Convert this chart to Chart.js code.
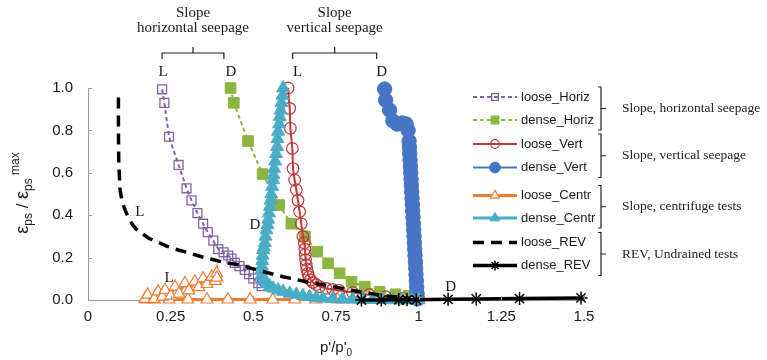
<!DOCTYPE html>
<html>
<head>
<meta charset="utf-8">
<script src="https://cdn.jsdelivr.net/npm/chart.js@4.4.1/dist/chart.umd.min.js"></script>
<style>
  html, body { margin: 0; padding: 0; background: #fff; }
  #wrap { width: 767px; height: 360px; }
</style>
</head>
<body>
<div id="wrap"><canvas id="chart" width="767" height="360"></canvas></div>
<script>
// 数据
const xTickLabels = ['0', '0.25', '0.5', '0.75', '1', '1.25', '1.5'];
const yTickLabels = ['0.0', '0.2', '0.4', '0.6', '0.8', '1.0'];

const looseHorizX = [0.224, 0.231, 0.245, 0.274, 0.298, 0.313, 0.331, 0.348, 0.362, 0.379, 0.394, 0.41, 0.424, 0.434, 0.444, 0.458, 0.474, 0.487, 0.5, 0.515, 0.525];
const looseHorizY = [0.994, 0.93, 0.77, 0.637, 0.527, 0.47, 0.41, 0.36, 0.32, 0.28, 0.24, 0.225, 0.21, 0.195, 0.175, 0.16, 0.142, 0.122, 0.102, 0.079, 0.065];

const denseHorizX = [0.431, 0.441, 0.484, 0.528, 0.578, 0.615, 0.656, 0.693, 0.726, 0.761, 0.797, 0.837, 0.882, 0.93, 0.97, 1.0];
const denseHorizY = [1.0, 0.93, 0.75, 0.594, 0.448, 0.36, 0.30, 0.228, 0.173, 0.126, 0.086, 0.063, 0.039, 0.027, 0.02, 0.015];

const looseVertX = [0.605, 0.61, 0.612, 0.618, 0.62, 0.625, 0.63, 0.635, 0.64, 0.645, 0.65, 0.654, 0.656, 0.657, 0.658, 0.66, 0.662, 0.665, 0.668, 0.673, 0.68, 0.69, 0.70, 0.72, 0.74, 0.76, 0.8, 0.85, 0.9, 0.95, 1.0];
const looseVertY = [1.0, 0.904, 0.81, 0.715, 0.62, 0.566, 0.52, 0.47, 0.417, 0.36, 0.30, 0.27, 0.24, 0.215, 0.19, 0.165, 0.145, 0.125, 0.11, 0.095, 0.083, 0.073, 0.063, 0.055, 0.05, 0.045, 0.035, 0.025, 0.016, 0.008, 0.003];

const denseVertX = [0.897, 0.9, 0.912, 0.922, 0.935, 0.95, 0.962, 0.968, 0.971, 0.972, 0.973, 0.974, 0.975, 0.976, 0.977, 0.978, 0.979, 0.98, 0.981, 0.982, 0.983, 0.984, 0.985, 0.986, 0.987, 0.988, 0.989, 0.99, 0.991, 0.992, 0.993, 0.994, 0.995, 0.996];
const denseVertY = [0.995, 0.943, 0.896, 0.845, 0.83, 0.835, 0.83, 0.8, 0.75, 0.72, 0.69, 0.66, 0.63, 0.60, 0.57, 0.54, 0.51, 0.48, 0.45, 0.42, 0.39, 0.36, 0.33, 0.30, 0.27, 0.24, 0.21, 0.18, 0.15, 0.12, 0.09, 0.06, 0.03, 0.005];

const looseCentrX = [1.0, 0.955, 0.888, 0.822, 0.755, 0.689, 0.625, 0.559, 0.49, 0.423, 0.36, 0.302, 0.245, 0.2, 0.175, 0.172, 0.18, 0.2, 0.212, 0.225, 0.233, 0.25, 0.263, 0.275, 0.293, 0.305, 0.323, 0.335, 0.348, 0.36, 0.374, 0.385, 0.389, 0.39];
const looseCentrY = [0.002, 0.002, 0.002, 0.002, 0.002, 0.002, 0.002, 0.002, 0.002, 0.002, 0.002, 0.002, 0.002, 0.002, 0.002, 0.005, 0.025, 0.005, 0.04, 0.015, 0.047, 0.02, 0.063, 0.03, 0.079, 0.045, 0.087, 0.06, 0.102, 0.075, 0.11, 0.09, 0.126, 0.105];

const denseCentrX = [0.59, 0.588, 0.585, 0.582, 0.58, 0.578, 0.575, 0.573, 0.572, 0.569, 0.566, 0.563, 0.561, 0.56, 0.557, 0.554, 0.552, 0.55, 0.547, 0.545, 0.543, 0.54, 0.537, 0.535, 0.532, 0.53, 0.528, 0.527, 0.526, 0.525, 0.526, 0.53, 0.54, 0.55, 0.56, 0.575, 0.59, 0.61, 0.63, 0.65, 0.67, 0.69, 0.71, 0.74, 0.77, 0.8, 0.83, 0.86, 0.89, 0.92, 0.95, 0.98, 1.0];
const denseCentrY = [1.0, 0.965, 0.93, 0.895, 0.865, 0.83, 0.795, 0.76, 0.723, 0.69, 0.655, 0.62, 0.59, 0.566, 0.535, 0.5, 0.47, 0.44, 0.41, 0.38, 0.355, 0.33, 0.3, 0.27, 0.25, 0.236, 0.21, 0.185, 0.16, 0.142, 0.12, 0.094, 0.078, 0.065, 0.055, 0.047, 0.04, 0.031, 0.026, 0.02, 0.015, 0.011, 0.008, 0.006, 0.004, 0.003, 0.002, 0.001, 0.001, 0.0, 0.0, 0.0, 0.0];

const looseRevX = [0.092, 0.092, 0.092, 0.093, 0.097, 0.104, 0.112, 0.122, 0.132, 0.145, 0.162, 0.185, 0.212, 0.24, 0.273, 0.31, 0.343, 0.38, 0.414, 0.459, 0.52, 0.59, 0.66, 0.741, 0.822, 0.902, 0.97];
const looseRevY = [0.955, 0.87, 0.8, 0.645, 0.519, 0.46, 0.425, 0.39, 0.362, 0.335, 0.315, 0.29, 0.272, 0.253, 0.236, 0.22, 0.204, 0.19, 0.176, 0.165, 0.138, 0.11, 0.086, 0.063, 0.039, 0.019, 0.008];

const denseRevX = [0.827, 0.887, 0.94, 0.965, 0.993, 1.089, 1.174, 1.305, 1.491];
const denseRevY = [0.0, 0.0, 0.001, 0.001, 0.001, 0.003, 0.005, 0.007, 0.01];

const seriesNames = ['loose_Horiz', 'dense_Horiz', 'loose_Vert', 'dense_Vert', 'loose_Centr', 'dense_Centr', 'loose_REV', 'dense_REV'];
const legendGroups = ['Slope, horizontal seepage', 'Slope, vertical seepage', 'Slope, centrifuge tests', 'REV, Undrained tests'];

// 图中的 L / D 标注（数据坐标）
const markLabels = [
  { text: 'L', x: 0.227, y: 1.075 },
  { text: 'D', x: 0.432, y: 1.075 },
  { text: 'L', x: 0.634, y: 1.075 },
  { text: 'D', x: 0.888, y: 1.075 },
  { text: 'L', x: 0.157, y: 0.415 },
  { text: 'L', x: 0.245, y: 0.104 },
  { text: 'D', x: 0.505, y: 0.354 },
  { text: 'D', x: 1.097, y: 0.061 }
];
const topGroups = [
  { lines: ['Slope', 'horizontal seepage'], x0: 0.224, x1: 0.411 },
  { lines: ['Slope', 'vertical seepage'], x0: 0.619, x1: 0.873 }
];

const SANS = '"Liberation Sans", Arial, sans-serif';
const SERIF = '"Liberation Serif", "Times New Roman", serif';
const TEXT_COLOR = '#1a1a1a';
const AXIS_COLOR = '#9a9a9a';

function zip(xs, ys) {
  return xs.map((x, i) => ({ x: x, y: ys[i] }));
}

const styles = [
  { color: '#8064A2', dash: [4, 3], width: 2, point: 'rect', radius: 6.3, fill: 'rgba(0,0,0,0)', pbw: 1.3 },
  { color: '#8DB540', dash: [4, 3], width: 2, point: 'rect', radius: 7.5, fill: '#8DB540', pbw: 1 },
  { color: '#C0393B', dash: [], width: 2, point: 'circle', radius: 5.8, fill: 'rgba(0,0,0,0)', pbw: 1.2 },
  { color: '#4775C6', dash: [], width: 2, point: 'circle', radius: 7.2, fill: '#4775C6', pbw: 1 },
  { color: '#ED7D31', dash: [], width: 3, point: 'triangle', radius: 6.8, fill: '#ffffff', pbw: 1.2 },
  { color: '#4AACC6', dash: [], width: 3, point: 'triangle', radius: 7.5, fill: '#4AACC6', pbw: 1 },
  { color: '#000000', dash: [11, 7], width: 3.5, point: 'circle', radius: 0, fill: '#000000', pbw: 0 },
  { color: '#000000', dash: [], width: 3.5, point: 'star', radius: 6.5, fill: '#000000', pbw: 1.5 }
];

const allX = [looseHorizX, denseHorizX, looseVertX, denseVertX, looseCentrX, denseCentrX, looseRevX, denseRevX];
const allY = [looseHorizY, denseHorizY, looseVertY, denseVertY, looseCentrY, denseCentrY, looseRevY, denseRevY];

const datasets = seriesNames.map((name, i) => {
  const s = styles[i];
  return {
    label: name,
    data: zip(allX[i], allY[i]),
    showLine: true,
    borderColor: s.color,
    borderWidth: s.width,
    borderDash: s.dash,
    pointStyle: s.point,
    pointRadius: s.radius,
    pointBorderWidth: s.pbw,
    pointBorderColor: s.color,
    pointBackgroundColor: s.fill,
    backgroundColor: s.fill,
    tension: 0,
    clip: false,
    order: seriesNames.length - i
  };
});

const decorPlugin = {
  id: 'decor',
  afterDraw(chart) {
    const { ctx, chartArea } = chart;
    const xs = chart.scales.x, ys = chart.scales.y;
    ctx.save();

    // 坐标轴内侧刻度
    ctx.strokeStyle = AXIS_COLOR;
    ctx.lineWidth = 1;
    xs.ticks.forEach(t => {
      const px = Math.round(xs.getPixelForValue(t.value)) + 0.5;
      ctx.beginPath(); ctx.moveTo(px, chartArea.bottom); ctx.lineTo(px, chartArea.bottom - 4); ctx.stroke();
    });
    ys.ticks.forEach(t => {
      const py = Math.round(ys.getPixelForValue(t.value)) + 0.5;
      ctx.beginPath(); ctx.moveTo(chartArea.left, py); ctx.lineTo(chartArea.left + 4, py); ctx.stroke();
    });

    // L / D 标注
    ctx.fillStyle = TEXT_COLOR;
    ctx.font = '15px ' + SERIF;
    ctx.textAlign = 'center';
    ctx.textBaseline = 'middle';
    markLabels.forEach(m => {
      ctx.fillText(m.text, xs.getPixelForValue(m.x), ys.getPixelForValue(m.y));
    });

    // 顶部括号和分组说明
    ctx.strokeStyle = '#222';
    ctx.lineWidth = 1.2;
    topGroups.forEach(g => {
      const a = xs.getPixelForValue(g.x0), b = xs.getPixelForValue(g.x1);
      const yb = ys.getPixelForValue(1.165);
      const mid = (a + b) / 2;
      ctx.beginPath();
      ctx.moveTo(a, yb + 6); ctx.lineTo(a, yb); ctx.lineTo(b, yb); ctx.lineTo(b, yb + 6);
      ctx.moveTo(mid, yb); ctx.lineTo(mid, yb - 6);
      ctx.stroke();
      ctx.fillText(g.lines[0], mid, yb - 40);
      ctx.fillText(g.lines[1], mid, yb - 25);
    });

    // 图例
    const rowY = [97, 120, 144, 167.5, 195.5, 218, 242.5, 265.5];
    const lx0 = 473, lx1 = 517, tx = 521;
    chart.data.datasets.forEach((ds, i) => {
      const y = rowY[i];
      ctx.save();
      ctx.strokeStyle = ds.borderColor;
      ctx.lineWidth = ds.borderWidth;
      ctx.setLineDash(ds.borderDash);
      ctx.beginPath(); ctx.moveTo(lx0, y); ctx.lineTo(lx1, y); ctx.stroke();
      ctx.setLineDash([]);
      if (ds.pointRadius > 0) {
        ctx.fillStyle = ds.pointBackgroundColor;
        ctx.strokeStyle = ds.pointBorderColor;
        ctx.lineWidth = ds.pointBorderWidth;
        Chart.helpers.drawPoint(ctx, {
          pointStyle: ds.pointStyle, radius: ds.pointRadius * 0.75, rotation: 0, borderWidth: ds.pointBorderWidth
        }, (lx0 + lx1) / 2, y);
      }
      ctx.restore();
      ctx.fillStyle = TEXT_COLOR;
      ctx.font = '13px ' + SANS;
      ctx.textAlign = 'left';
      ctx.textBaseline = 'middle';
      ctx.fillText(ds.label, tx, y);
    });
    legendGroups.forEach((g, k) => {
      const top = rowY[2 * k] - 10, bot = rowY[2 * k + 1] + 10;
      const mid = (rowY[2 * k] + rowY[2 * k + 1]) / 2;
      const bx = 601;
      ctx.strokeStyle = '#222';
      ctx.lineWidth = 1.2;
      ctx.beginPath();
      ctx.moveTo(bx - 3, top); ctx.lineTo(bx, top); ctx.lineTo(bx, bot); ctx.lineTo(bx - 3, bot);
      ctx.moveTo(bx, mid); ctx.lineTo(bx + 5, mid);
      ctx.stroke();
      ctx.fillStyle = TEXT_COLOR;
      ctx.font = '13.5px ' + SERIF;
      ctx.textAlign = 'left';
      ctx.fillText(g, 622, mid);
    });

    // y 轴标题（带上下标）
    ctx.save();
    ctx.translate(28, 193);
    ctx.rotate(-Math.PI / 2);
    const parts = [
      { t: 'ε', size: 18, dy: 0 },
      { t: 'ps', size: 12, dy: 4 },
      { t: ' / ', size: 17, dy: 0 },
      { t: 'ε', size: 18, dy: 0 },
      { t: 'ps', size: 12, dy: 4 },
      { t: ' max', size: 12, dy: -9 }
    ];
    let total = 0;
    parts.forEach(p => { ctx.font = p.size + 'px ' + SANS; p.w = ctx.measureText(p.t).width; total += p.w; });
    let cx = -total / 2;
    ctx.textAlign = 'left';
    ctx.textBaseline = 'alphabetic';
    ctx.fillStyle = TEXT_COLOR;
    parts.forEach(p => { ctx.font = p.size + 'px ' + SANS; ctx.fillText(p.t, cx, p.dy); cx += p.w; });
    ctx.restore();

    // x 轴标题
    const xParts = [{ t: "p'/p'", size: 15, dy: 0 }, { t: '0', size: 10, dy: 4 }];
    let xw = 0;
    xParts.forEach(p => { ctx.font = p.size + 'px ' + SANS; p.w = ctx.measureText(p.t).width; xw += p.w; });
    let px = (chartArea.left + chartArea.right) / 2 - xw / 2;
    ctx.textAlign = 'left';
    ctx.textBaseline = 'alphabetic';
    xParts.forEach(p => { ctx.font = p.size + 'px ' + SANS; ctx.fillText(p.t, px, 352 + p.dy); px += p.w; });

    ctx.restore();
  }
};

new Chart(document.getElementById('chart'), {
  type: 'scatter',
  data: { datasets: datasets },
  options: {
    responsive: false,
    animation: false,
    layout: { padding: { top: 88, right: 183, left: 0, bottom: 0 } },
    plugins: { legend: { display: false }, tooltip: { enabled: false } },
    scales: {
      x: {
        type: 'linear', min: 0, max: 1.5,
        afterFit: s => { s.height = 60; },
        ticks: {
          stepSize: 0.25, padding: 8, color: TEXT_COLOR,
          font: { family: SANS, size: 15 },
          callback: (v, i) => xTickLabels[i]
        },
        grid: { display: true, drawOnChartArea: false, drawTicks: false },
        border: { color: AXIS_COLOR, width: 1 }
      },
      y: {
        type: 'linear', min: 0, max: 1,
        afterFit: s => { s.width = 88; },
        ticks: {
          stepSize: 0.2, padding: 15, color: TEXT_COLOR,
          font: { family: SANS, size: 15 },
          callback: (v, i) => yTickLabels[i]
        },
        grid: { display: true, drawOnChartArea: false, drawTicks: false },
        border: { color: AXIS_COLOR, width: 1 }
      }
    }
  },
  plugins: [decorPlugin]
});
</script>
</body>
</html>
